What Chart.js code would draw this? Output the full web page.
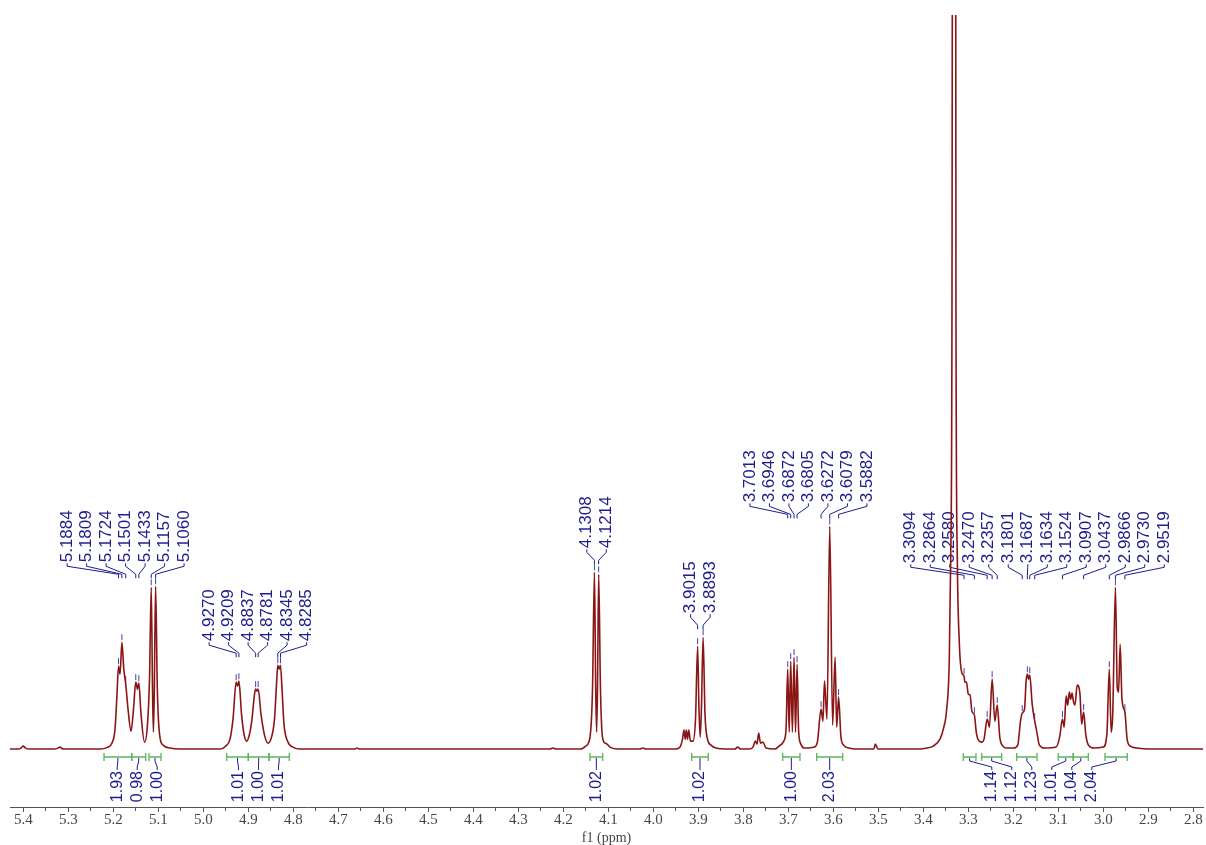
<!DOCTYPE html>
<html>
<head>
<meta charset="utf-8">
<title>1H NMR spectrum</title>
<script src="https://cdn.jsdelivr.net/npm/chart.js@4.4.1/dist/chart.umd.min.js"></script>
<style>
  html, body { margin: 0; padding: 0; background: #fff; }
  #wrap { width: 1206px; height: 845px; }
</style>
</head>
<body>
<div id="wrap"><canvas id="nmr" width="1206" height="845"></canvas></div>
<script>
// spectrum trace (ppm, intensity in arbitrary units, baseline = 0)
const tracePpm = [
  5.4296, 5.4120, 5.4050, 5.4007, 5.3950, 5.3890, 5.3300, 5.3230, 5.3184, 5.3120,
  5.2300, 5.2120, 5.2030, 5.1962, 5.1918, 5.1884, 5.1851, 5.1809, 5.1767, 5.1724,
  5.1673, 5.1606, 5.1551, 5.1501, 5.1464, 5.1433, 5.1384, 5.1307, 5.1240, 5.1196,
  5.1157, 5.1129, 5.1109, 5.1089, 5.1060, 5.1022, 5.0973, 5.0896, 5.0740, 5.0520,
  4.9630, 4.9500, 4.9407, 4.9340, 4.9270, 4.9239, 4.9209, 4.9151, 4.9096, 4.9036,
  4.8973, 4.8918, 4.8862, 4.8837, 4.8809, 4.8781, 4.8718, 4.8640, 4.8562, 4.8484,
  4.8418, 4.8373, 4.8345, 4.8316, 4.8285, 4.8251, 4.8207, 4.8129, 4.8007, 4.7850,
  4.6640, 4.6585, 4.6530, 4.2300, 4.2229, 4.2160, 4.1630, 4.1500, 4.1407, 4.1351,
  4.1308, 4.1280, 4.1260, 4.1240, 4.1214, 4.1174, 4.1129, 4.1073, 4.1029, 4.0962,
  4.0785, 4.0300, 4.0230, 4.0170, 3.9500, 3.9407, 3.9351, 3.9318, 3.9291, 3.9267,
  3.9240, 3.9213, 3.9173, 3.9118, 3.9062, 3.9015, 3.8985, 3.8958, 3.8931, 3.8893,
  3.8851, 3.8796, 3.8718, 3.8607, 3.8400, 3.8190, 3.8125, 3.8060, 3.7870, 3.7784,
  3.7733, 3.7696, 3.7658, 3.7618, 3.7562, 3.7496, 3.7300, 3.7207, 3.7100, 3.7050,
  3.7013, 3.6980, 3.6946, 3.6909, 3.6872, 3.6839, 3.6805, 3.6770, 3.6720, 3.6650,
  3.6420, 3.6350, 3.6272, 3.6230, 3.6195, 3.6140, 3.6079, 3.6015, 3.5960, 3.5925,
  3.5882, 3.5830, 3.5770, 3.5650, 3.5500, 3.5100, 3.5065, 3.5010, 3.4074, 3.3925,
  3.3778, 3.3629, 3.3555, 3.3480, 3.3422, 3.3391, 3.3362, 3.3318, 3.3274, 3.3244,
  3.3200, 3.3147, 3.3094, 3.3075, 3.3040, 3.3000, 3.2960, 3.2920, 3.2864, 3.2820,
  3.2760, 3.2700, 3.2650, 3.2580, 3.2530, 3.2470, 3.2410, 3.2357, 3.2300, 3.2230,
  3.2150, 3.2000, 3.1900, 3.1840, 3.1801, 3.1750, 3.1715, 3.1687, 3.1660, 3.1634,
  3.1580, 3.1524, 3.1480, 3.1420, 3.1300, 3.1050, 3.0970, 3.0907, 3.0870, 3.0825,
  3.0790, 3.0755, 3.0725, 3.0695, 3.0665, 3.0630, 3.0580, 3.0520, 3.0480, 3.0437,
  3.0390, 3.0330, 3.0200, 3.0000, 2.9920, 2.9866, 2.9825, 2.9790, 2.9730, 2.9690,
  2.9660, 2.9625, 2.9585, 2.9519, 2.9470, 2.9400, 2.9250, 2.9000, 2.8500, 2.7784
];
const traceIntensity = [
  0, 0, 1, 3, 1, 0, 0, 1, 2, 0,
  0, 2, 6, 20, 55, 83, 75, 107, 80, 65,
  40, 18, 40, 67, 60, 66, 35, 7, 25, 70,
  162, 60, 17, 60, 163, 60, 15, 4, 1, 0,
  0, 3, 10, 30, 67, 63, 68, 35, 15, 8,
  15, 30, 55, 60, 58, 60, 35, 14, 6, 12,
  30, 65, 84, 80, 84, 60, 25, 8, 2, 0,
  0, 1, 0, 0, 1, 0, 0, 3, 12, 60,
  177, 60, 17, 60, 175, 60, 12, 6, 5, 2,
  0, 0, 1, 0, 0, 2, 10, 19, 10, 19,
  10, 19, 8, 8, 30, 103, 40, 12, 40, 112,
  35, 10, 4, 1, 0, 0, 2, 0, 0, 2,
  8, 5, 16, 6, 7, 1, 0, 3, 8, 20,
  80, 17, 88, 17, 92, 17, 85, 18, 5, 1,
  2, 8, 40, 28, 68, 30, 223, 24, 92, 22,
  52, 12, 4, 1, 0, 0, 5, 0, 0, 1,
  3, 10, 20, 40, 90, 190, 450, 3000, 450, 190,
  107, 77, 73, 67, 67, 55, 54, 38, 34, 16,
  8, 7, 10, 30, 22, 70, 28, 44, 12, 3,
  1, 1, 4, 28, 36, 40, 68, 75, 70, 74,
  45, 28, 18, 4, 1, 2, 12, 30, 22, 53,
  44, 57, 50, 56, 48, 44, 64, 56, 25, 37,
  15, 4, 1, 2, 15, 80, 17, 35, 162, 62,
  57, 105, 50, 37, 10, 3, 1, 0, 0, 0
];

// picked peaks, one list per label group
const peakGroups = [
  [5.1884, 5.1809, 5.1724, 5.1501, 5.1433, 5.1157, 5.1060],
  [4.9270, 4.9209, 4.8837, 4.8781, 4.8345, 4.8285],
  [4.1308, 4.1214],
  [3.9015, 3.8893],
  [3.7013, 3.6946, 3.6872, 3.6805, 3.6272, 3.6079, 3.5882],
  [3.3094, 3.2864, 3.2580, 3.2470, 3.2357, 3.1801, 3.1687, 3.1634, 3.1524,
   3.0907, 3.0437, 2.9866, 2.9730, 2.9519]
];

// integral regions
const integralFrom = [5.2207, 5.1591, 5.1207, 4.9480, 4.9000, 4.8540, 4.1407, 3.9147,
                      3.7124, 3.6369, 3.3111, 3.2702, 3.1924, 3.1000, 3.0667, 2.9962];
const integralTo = [5.1591, 5.1280, 5.0940, 4.9000, 4.8540, 4.8089, 4.1124, 3.8778,
                    3.6740, 3.5791, 3.2829, 3.2258, 3.1473, 3.0667, 3.0333, 2.9467];
const integralValues = ['1.93', '0.98', '1.00', '1.01', '1.00', '1.01', '1.02', '1.02',
                        '1.00', '2.03', '1.14', '1.12', '1.23', '1.01', '1.04', '2.04'];
const integralGroup = [0, 0, 0, 1, 1, 1, 2, 3, 4, 5, 6, 6, 6, 6, 6, 6];

const RED = '#8b1515';
const BLUE = '#1c1c8c';
const MARK_BLUE = '#4040b0';
const GREEN = '#5db35d';

function intensityAt(ppm) {
  for (let i = 0; i < tracePpm.length - 1; i++) {
    const a = tracePpm[i], b = tracePpm[i + 1];
    if (ppm <= a && ppm >= b) {
      const t = (a - ppm) / (a - b);
      return traceIntensity[i] + t * (traceIntensity[i + 1] - traceIntensity[i]);
    }
  }
  return 0;
}

function isMajor(v) {
  return Math.abs(v * 10 - Math.round(v * 10)) < 1e-6;
}

const nmrLabels = {
  id: 'nmrLabels',
  beforeDatasetsDraw(chart) {
    const ctx = chart.ctx;
    const xs = chart.scales.x, ys = chart.scales.y;
    ctx.save();

    // peak labels
    const SP = 19.5, GAP = 25;
    const layouts = peakGroups.map(g => {
      const px = g.map(p => xs.getPixelForValue(p));
      const mean = px.reduce((a, b) => a + b, 0) / px.length;
      return {
        px,
        n: px.length,
        first: mean - (px.length - 1) * SP / 2,
        tops: g.map(p => ys.getPixelForValue(intensityAt(p)))
      };
    });
    for (let i = layouts.length - 2; i >= 0; i--) {
      const a = layouts[i], b = layouts[i + 1];
      const aEnd = a.first + (a.n - 1) * SP;
      if (aEnd > b.first - GAP) a.first = b.first - GAP - (a.n - 1) * SP;
    }
    ctx.lineWidth = 1;
    ctx.font = '17px "Liberation Sans", Arial, sans-serif';
    ctx.textBaseline = 'middle';
    layouts.forEach((L, gi) => {
      const yText = Math.min(...L.tops) - 24;
      L.px.forEach((px, k) => {
        const lx = L.first + k * SP;
        ctx.strokeStyle = BLUE;
        ctx.beginPath();
        ctx.moveTo(lx, yText + 1);
        ctx.lineTo(lx, yText + 4);
        ctx.lineTo(px, yText + 12);
        ctx.lineTo(px, yText + 16);
        ctx.stroke();

        ctx.strokeStyle = MARK_BLUE;
        ctx.beginPath();
        ctx.moveTo(px, L.tops[k] - 8);
        ctx.lineTo(px, L.tops[k] - 2);
        ctx.stroke();

        ctx.save();
        ctx.translate(lx, yText);
        ctx.rotate(-Math.PI / 2);
        ctx.fillStyle = BLUE;
        ctx.textAlign = 'left';
        ctx.fillText(peakGroups[gi][k].toFixed(4), 0, 0);
        ctx.restore();
      });
    });

    // integrals
    const BAR_Y = 757;
    ctx.strokeStyle = GREEN;
    ctx.lineWidth = 1.3;
    const centers = [];
    integralFrom.forEach((f, i) => {
      const x1 = xs.getPixelForValue(f), x2 = xs.getPixelForValue(integralTo[i]);
      centers.push((x1 + x2) / 2);
      ctx.beginPath();
      ctx.moveTo(x1, BAR_Y); ctx.lineTo(x2, BAR_Y);
      ctx.moveTo(x1, BAR_Y - 4); ctx.lineTo(x1, BAR_Y + 4);
      ctx.moveTo(x2, BAR_Y - 4); ctx.lineTo(x2, BAR_Y + 4);
      ctx.stroke();
    });
    const ISP = 20;
    const labelX = new Array(centers.length);
    [...new Set(integralGroup)].forEach(g => {
      const idx = integralGroup.map((v, i) => v === g ? i : -1).filter(i => i >= 0);
      const mean = idx.reduce((a, i) => a + centers[i], 0) / idx.length;
      idx.forEach((i, k) => { labelX[i] = mean - (idx.length - 1) * ISP / 2 + k * ISP; });
    });
    ctx.lineWidth = 1;
    ctx.font = '16px "Liberation Sans", Arial, sans-serif';
    integralValues.forEach((val, i) => {
      const cx = centers[i], lx = labelX[i];
      ctx.strokeStyle = BLUE;
      ctx.beginPath();
      ctx.moveTo(cx, BAR_Y + 1);
      ctx.lineTo(cx, BAR_Y + 4);
      ctx.lineTo(lx, BAR_Y + 10);
      ctx.lineTo(lx, BAR_Y + 13);
      ctx.stroke();
      ctx.save();
      ctx.translate(lx, BAR_Y + 14);
      ctx.rotate(-Math.PI / 2);
      ctx.fillStyle = BLUE;
      ctx.textAlign = 'right';
      ctx.fillText(val, 0, 0);
      ctx.restore();
    });

    ctx.restore();
  }
};

new Chart(document.getElementById('nmr'), {
  type: 'line',
  data: {
    datasets: [{
      data: tracePpm.map((p, i) => ({ x: p, y: traceIntensity[i] })),
      borderColor: RED,
      borderWidth: 1.6,
      pointRadius: 0,
      fill: false,
      cubicInterpolationMode: 'monotone'
    }]
  },
  options: {
    responsive: false,
    animation: false,
    devicePixelRatio: 1,
    layout: { padding: { left: 10, right: 3, top: 15, bottom: 0 } },
    plugins: { legend: { display: false }, tooltip: { enabled: false } },
    scales: {
      x: {
        type: 'linear',
        reverse: true,
        min: 2.7784,
        max: 5.4296,
        border: { display: true, color: '#555', width: 1 },
        grid: {
          display: true,
          drawOnChartArea: false,
          drawTicks: true,
          tickLength: 5,
          tickColor: '#555',
          tickBorderDash: c => (c.tick && isMajor(c.tick.value)) ? [] : [3, 20]
        },
        ticks: {
          stepSize: 0.05,
          autoSkip: false,
          includeBounds: false,
          maxRotation: 0,
          minRotation: 0,
          padding: 1,
          color: '#444',
          font: { family: '"Liberation Serif", serif', size: 15, lineHeight: 1 },
          callback: v => isMajor(v) ? Number(v).toFixed(1) : ''
        },
        title: {
          display: true,
          text: 'f1 (ppm)',
          color: '#444',
          font: { family: '"Liberation Serif", serif', size: 14, lineHeight: 1 },
          padding: { top: 2, bottom: 0 }
        }
      },
      y: { display: false, min: -58, max: 735 }
    }
  },
  plugins: [nmrLabels]
});
</script>
</body>
</html>
